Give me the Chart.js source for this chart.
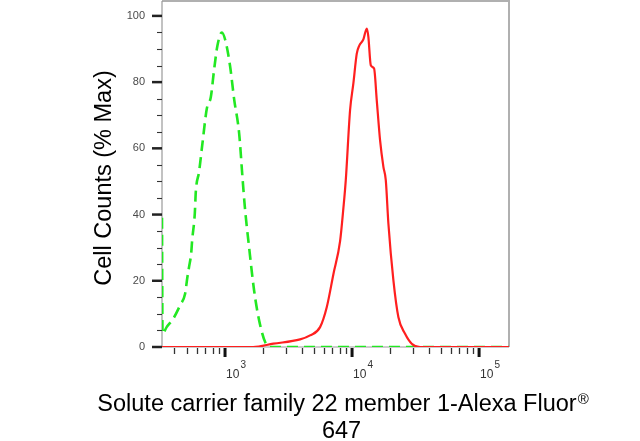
<!DOCTYPE html>
<html>
<head>
<meta charset="utf-8">
<script src="https://cdn.jsdelivr.net/npm/chart.js@4/dist/chart.umd.min.js"></script>
<style>
  html, body { margin: 0; padding: 0; background: #fff; }
  #wrap { width: 640px; height: 441px; }
</style>
</head>
<body>
<div id="wrap"><canvas id="c" width="640" height="441"></canvas></div>
<script>
// Contrôle isotypique (vert, pointillé)
const ctrlX = [319, 322, 347, 392, 443, 485, 505, 521, 541, 551, 578, 589, 625, 664, 719, 773, 820, 871, 944,
  1015, 1097, 1180, 1291, 1371, 1432, 1548, 1695, 1856, 2096, 2305, 172000];
const ctrlY = [39, 4, 6, 8.6, 12.6, 16.1, 21, 24.2, 28.2, 32.2, 40.3, 47, 53, 61.5, 72, 75.5, 83.7, 91, 95,
  92, 84.7, 74.8, 64.6, 51.4, 42.3, 30, 17, 8, 1, 0, 0];

// Échantillon marqué (rouge)
const sampleX = [319, 1663, 2400, 3900, 4670, 5600, 6320, 7130, 8050, 8550, 8925, 9645, 10240, 10890, 11420,
  12280, 13060, 13440, 14040, 14910, 15650, 16620, 17650, 18430, 19320, 21150, 23170, 26140, 29500, 34300, 172000];
const sampleY = [0, 0, 1, 2.3, 3.5, 6, 12, 22, 32, 42, 50.4, 71.5, 79.6, 88.6, 91.1,
  92.9, 96.2, 93.7, 85.1, 84.1, 74.5, 62.4, 54.4, 50.4, 37.3, 20.2, 9, 4, 1, 0, 0];

const yMajor = [0, 20, 40, 60, 80, 100];
const yMinor = [5, 10, 15, 25, 30, 35, 45, 50, 55, 65, 70, 75, 85, 90, 95];
const xMajor = [1e3, 1e4, 1e5];
const xMajorExp = ['3', '4', '5'];
const xMinor = [400, 500, 600, 700, 800, 900, 2000, 3000, 4000, 5000, 6000, 7000, 8000, 9000,
  20000, 30000, 40000, 50000, 60000, 70000, 80000, 90000];

const xTitle = 'Solute carrier family 22 member 1-Alexa Fluor';
const xTitle2 = '647';
const yTitle = 'Cell Counts (% Max)';

const FONT = 'Arial, "Liberation Sans", sans-serif';

function pts(xs, ys) {
  return xs.map((x, i) => ({ x, y: ys[i] }));
}

// Cadre et axe (sous les courbes)
const framePlugin = {
  id: 'frame',
  beforeDatasetsDraw(chart) {
    const { ctx, chartArea: a } = chart;
    ctx.save();
    ctx.strokeStyle = '#b0b0b0';
    ctx.lineWidth = 2;
    ctx.beginPath();
    ctx.moveTo(a.left, a.top);
    ctx.lineTo(a.right, a.top);
    ctx.lineTo(a.right, a.bottom);
    ctx.stroke();
    ctx.strokeStyle = '#9a9a9a';
    ctx.lineWidth = 1.2;
    ctx.beginPath();
    ctx.moveTo(a.left, a.top);
    ctx.lineTo(a.left, a.bottom);
    ctx.lineTo(a.right, a.bottom);
    ctx.stroke();
    ctx.restore();
  },
  afterDraw(chart) {
    const { ctx, chartArea: a } = chart;
    const sx = chart.scales.x, sy = chart.scales.y;
    ctx.save();

    // graduations Y
    ctx.strokeStyle = '#333';
    ctx.lineWidth = 1.1;
    yMinor.forEach(v => {
      const y = Math.round(sy.getPixelForValue(v)) + 0.5;
      ctx.beginPath(); ctx.moveTo(a.left - 5, y); ctx.lineTo(a.left, y); ctx.stroke();
    });
    ctx.strokeStyle = '#222';
    ctx.lineWidth = 2.5;
    ctx.fillStyle = '#4a4a4a';
    ctx.font = '11px ' + FONT;
    ctx.textAlign = 'right';
    ctx.textBaseline = 'middle';
    yMajor.forEach(v => {
      const y = sy.getPixelForValue(v);
      ctx.beginPath(); ctx.moveTo(a.left - 10, y); ctx.lineTo(a.left, y); ctx.stroke();
      ctx.fillText(String(v), a.left - 17, y);
    });

    // graduations X
    ctx.strokeStyle = '#333';
    ctx.lineWidth = 1.3;
    xMinor.forEach(v => {
      const x = Math.round(sx.getPixelForValue(v)) + 0.5;
      ctx.beginPath(); ctx.moveTo(x, a.bottom + 1); ctx.lineTo(x, a.bottom + 7); ctx.stroke();
    });
    ctx.strokeStyle = '#111';
    ctx.lineWidth = 3;
    ctx.fillStyle = '#333';
    ctx.textAlign = 'left';
    ctx.textBaseline = 'alphabetic';
    xMajor.forEach((v, i) => {
      const x = sx.getPixelForValue(v);
      ctx.beginPath(); ctx.moveTo(x, a.bottom + 1); ctx.lineTo(x, a.bottom + 10); ctx.stroke();
      ctx.font = '12px ' + FONT;
      ctx.fillText('10', x + 1, a.bottom + 31);
      const w = ctx.measureText('10').width;
      ctx.font = '10px ' + FONT;
      ctx.fillText(xMajorExp[i], x + 2 + w, a.bottom + 21);
    });

    // titres
    ctx.fillStyle = '#000';
    ctx.font = '23.5px ' + FONT;
    const w1 = ctx.measureText(xTitle).width;
    ctx.font = '15px ' + FONT;
    const wr = ctx.measureText('®').width;
    const cx = 343;
    const x0 = cx - (w1 + wr + 1) / 2;
    ctx.textAlign = 'left';
    ctx.font = '23.5px ' + FONT;
    ctx.fillText(xTitle, x0, 411);
    ctx.font = '15px ' + FONT;
    ctx.fillText('®', x0 + w1 + 1, 404);
    ctx.font = '23.5px ' + FONT;
    ctx.textAlign = 'center';
    ctx.fillText(xTitle2, 341.5, 438);

    ctx.translate(105, 178);
    ctx.rotate(-Math.PI / 2);
    ctx.textBaseline = 'middle';
    ctx.font = '23.5px ' + FONT;
    ctx.fillText(yTitle, 0, 0);
    ctx.restore();
  }
};

new Chart(document.getElementById('c'), {
  type: 'line',
  data: {
    datasets: [
      {
        label: 'sample', data: pts(sampleX, sampleY), order: 0,
        borderColor: '#ff1f1f', borderWidth: 2.2, pointRadius: 0,
        cubicInterpolationMode: 'monotone', fill: false,
      },
      {
        label: 'control', data: pts(ctrlX, ctrlY), order: 1,
        borderColor: '#22e822', borderWidth: 2.6, borderDash: [11, 6], pointRadius: 0,
        cubicInterpolationMode: 'monotone', fill: false,
      },
    ],
  },
  options: {
    responsive: false,
    animation: false,
    layout: { padding: { left: 162, right: 131, top: 1, bottom: 94 } },
    plugins: { legend: { display: false }, tooltip: { enabled: false } },
    scales: {
      x: { type: 'logarithmic', min: 319, max: 172000, display: false },
      y: { type: 'linear', min: 0, max: 104.5, display: false },
    },
  },
  plugins: [framePlugin],
});
</script>
</body>
</html>
